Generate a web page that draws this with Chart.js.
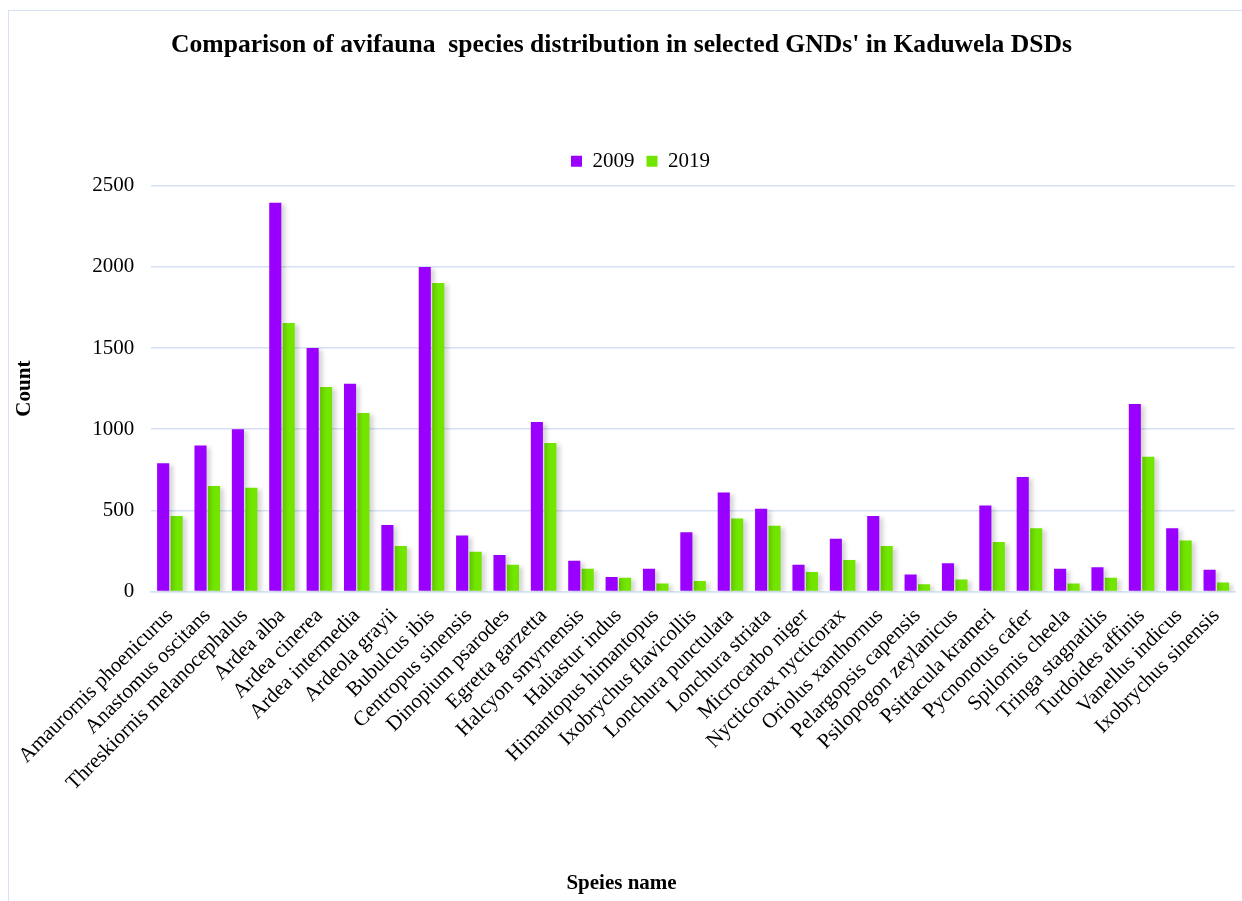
<!DOCTYPE html>
<html>
<head>
<meta charset="utf-8">
<script src="https://cdn.jsdelivr.net/npm/chart.js@4"></script>
<style>
  html, body { margin: 0; padding: 0; background: #fff; overflow: hidden; }
  #wrap { position: relative; width: 1242px; height: 901px; }
  #frame { position: absolute; left: 8px; top: 10px; width: 1300px; height: 1000px;
           border: 1.5px solid #d6e2f3; box-sizing: border-box; }
  #chart { position: absolute; left: 0; top: 0; }
</style>
</head>
<body>
<div id="wrap">
  <div id="frame"></div>
  <canvas id="chart" width="1242" height="901"></canvas>
</div>
<script>
var species = [
    "Amaurornis phoenicurus", "Anastomus oscitans", "Threskiornis melanocephalus",
    "Ardea alba", "Ardea cinerea", "Ardea intermedia", "Ardeola grayii",
    "Bubulcus ibis", "Centropus sinensis", "Dinopium psarodes", "Egretta garzetta",
    "Halcyon smyrnensis", "Haliastur indus", "Himantopus himantopus",
    "Ixobrychus flavicollis", "Lonchura punctulata", "Lonchura striata",
    "Microcarbo niger", "Nycticorax nycticorax", "Oriolus xanthornus",
    "Pelargopsis capensis", "Psilopogon zeylanicus", "Psittacula krameri",
    "Pycnonotus cafer", "Spilornis cheela", "Tringa stagnatilis",
    "Turdoides affinis", "Vanellus indicus", "Ixobrychus sinensis"
];
var counts2009 = [790, 900, 1000, 2395, 1500, 1280, 410, 2000, 345, 225, 1045,
    190, 90, 140, 365, 610, 510, 165, 325, 465, 105, 175, 530, 705, 140, 150,
    1155, 390, 135];
var counts2019 = [465, 650, 640, 1655, 1260, 1100, 280, 1900, 245, 165, 915,
    140, 85, 50, 65, 450, 405, 120, 195, 280, 45, 75, 305, 390, 50, 85,
    830, 315, 55];
var seriesNames = ["2009", "2019"];
var yMax = 2500;
var yStep = 500;

var serif = "'Liberation Serif', 'Times New Roman', serif";
var gridBlue = '#d6e2f3';

Chart.defaults.font.family = serif;
Chart.defaults.color = '#000';

// soft drop shadow behind the bars, like the office chart
var barShadow = {
    id: 'barShadow',
    beforeDatasetsDraw: function(chart) {
        var ctx = chart.ctx;
        ctx.save();
        ctx.shadowColor = 'rgba(0,0,0,0.16)';
        ctx.shadowBlur = 4;
        ctx.shadowOffsetX = 4;
        ctx.shadowOffsetY = 2;
    },
    afterDatasetsDraw: function(chart) {
        chart.ctx.restore();
    }
};

// legend: a bit more room below it and nudged right like the original
var legendTweak = {
    id: 'legendTweak',
    beforeInit: function(chart) {
        var fit = chart.legend.fit;
        chart.legend.fit = function() {
            fit.bind(chart.legend)();
            this.height += 4;
        };
    },
    afterLayout: function(chart) {
        chart.legend.left += 19;
        chart.legend.right += 19;
    }
};

new Chart(document.getElementById('chart').getContext('2d'), {
    type: 'bar',
    data: {
        labels: species,
        datasets: [
            {
                label: seriesNames[0],
                data: counts2009,
                backgroundColor: '#9900ff',
                categoryPercentage: 0.72,
                barPercentage: 0.9
            },
            {
                label: seriesNames[1],
                data: counts2019,
                backgroundColor: '#73e600',
                categoryPercentage: 0.72,
                barPercentage: 0.9
            }
        ]
    },
    options: {
        responsive: false,
        animation: false,
        devicePixelRatio: 1,
        layout: { padding: { left: 8, right: 7, top: 0, bottom: 0 } },
        plugins: {
            title: {
                display: true,
                text: "Comparison of avifauna  species distribution in selected GNDs' in Kaduwela DSDs",
                font: { size: 25.6, weight: 'bold', family: serif },
                color: '#000',
                padding: { top: 30, bottom: 78 }
            },
            subtitle: {
                display: true,
                position: 'bottom',
                text: 'Speies name',
                font: { size: 21, weight: 'bold', family: serif },
                color: '#000',
                padding: { top: 63, bottom: 5 }
            },
            legend: {
                position: 'top',
                labels: {
                    boxWidth: 11,
                    boxHeight: 11,
                    padding: 12,
                    font: { size: 21, family: serif },
                    color: '#000'
                }
            },
            tooltip: { enabled: false }
        },
        scales: {
            x: {
                grid: { display: false, drawTicks: false },
                border: { display: true, color: gridBlue, width: 1.5 },
                ticks: {
                    autoSkip: false,
                    maxRotation: 45,
                    minRotation: 45,
                    padding: 12,
                    font: { size: 21, family: serif },
                    color: '#000'
                },
                afterFit: function(scale) {
                    // let the slanted labels hang into the margin
                    scale.paddingLeft = 0;
                    scale.paddingRight = 0;
                }
            },
            y: {
                min: 0,
                max: yMax,
                grid: { color: gridBlue, lineWidth: 1.5, drawTicks: false },
                border: { display: false },
                ticks: {
                    stepSize: yStep,
                    padding: 17,
                    font: { size: 21, family: serif },
                    color: '#000',
                    callback: function(value) { return String(value); }
                },
                title: {
                    display: true,
                    text: 'Count',
                    font: { size: 21, weight: 'bold', family: serif },
                    color: '#000',
                    padding: { top: 4, bottom: 38 }
                }
            }
        }
    },
    plugins: [barShadow, legendTweak]
});
</script>
</body>
</html>
